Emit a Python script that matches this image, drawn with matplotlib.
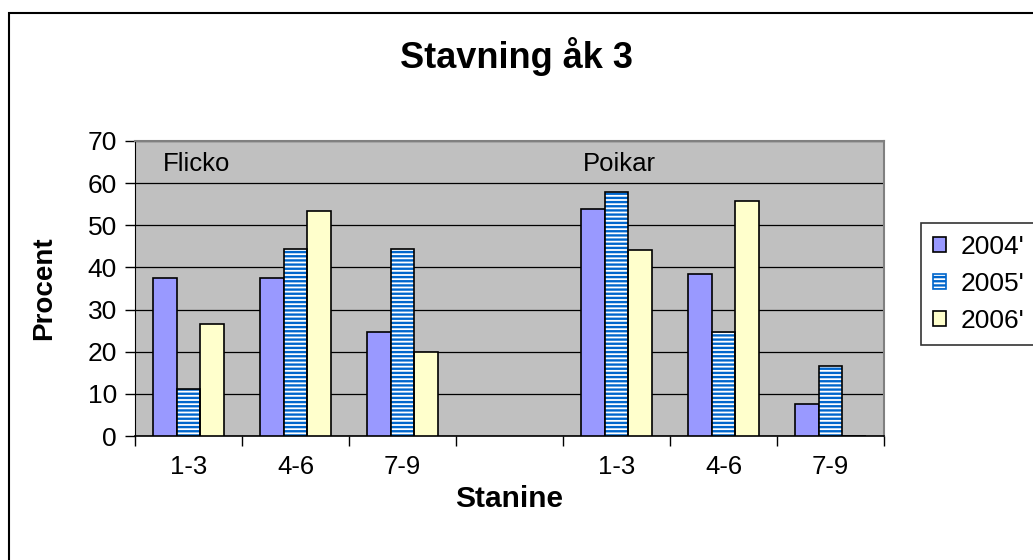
import numpy as np
import matplotlib
matplotlib.use("Agg")
import matplotlib.pyplot as plt
from matplotlib.patches import Rectangle, Patch

plt.rcParams['font.family'] = ['Liberation Sans', 'DejaVu Sans']
plt.rcParams['patch.force_edgecolor'] = True
plt.rcParams['patch.edgecolor'] = 'black'
plt.rcParams['hatch.color'] = '#0066CC'
plt.rcParams['hatch.linewidth'] = 1.7

# data: Flicko (1-3, 4-6, 7-9), empty slot, Poikar (1-3, 4-6, 7-9)
categories = ['1-3', '4-6', '7-9', '', '1-3', '4-6', '7-9']
years = ["2004'", "2005'", "2006'"]
v2004 = [37.5, 37.5, 24.6, 0, 53.8, 38.5, 7.7]
v2005 = [11.1, 44.4, 44.4, 0, 58.0, 24.6, 16.7]
v2006 = [26.6, 53.3, 20.0, 0, 44.2, 55.8, 0]
groups = ['Flicko', 'Poikar']

HATCH_BLUE = '#0066CC'
has_hatchcolor = hasattr(Patch, 'set_hatchcolor')

fig = plt.figure(figsize=(10.33, 5.6), dpi=100)
ax = fig.add_axes([135/1033, 1 - 436/560, (884 - 135)/1033, (436 - 141)/560])
ax.set_facecolor('#C0C0C0')

x = np.arange(len(categories))
w = 0.22
mask = [i != 3 for i in range(len(categories))]
xs = x[mask]
ax.bar(xs - w, np.array(v2004)[mask], w, color='#9999FF', linewidth=1.2, zorder=3)
if has_hatchcolor:
    ax.bar(xs, np.array(v2005)[mask], w, facecolor='white', edgecolor='black',
           hatch='----', hatchcolor=HATCH_BLUE, linewidth=1.2, zorder=3)
else:
    ax.bar(xs, np.array(v2005)[mask], w, facecolor='white', edgecolor=HATCH_BLUE,
           hatch='----', linewidth=0, zorder=3)
    ax.bar(xs, np.array(v2005)[mask], w, fill=False, edgecolor='black',
           linewidth=1.2, zorder=4)
ax.bar(xs + w, np.array(v2006)[mask], w, color='#FFFFCC', linewidth=1.2, zorder=3)

ax.set_xlim(-0.5, len(categories) - 0.5)
ax.set_ylim(0, 70)
ax.set_yticks(range(0, 71, 10))
ax.yaxis.grid(True, color='black', linewidth=0.9, zorder=0)
ax.set_axisbelow(True)

ax.set_xticks(x)
ax.set_xticklabels(categories)
ax.set_xticks(np.arange(-0.5, len(categories)), minor=True)
ax.tick_params(axis='x', which='major', length=0, pad=14, labelsize=18.5)
ax.tick_params(axis='x', which='minor', length=7, width=1, color='black')
ax.tick_params(axis='y', length=7, width=1, labelsize=19, pad=6)

ax.spines['left'].set_color('black')
ax.spines['bottom'].set_color('black')
ax.spines['bottom'].set_linewidth(1.2)
ax.spines['top'].set_color('#808080')
ax.spines['right'].set_color('#808080')
ax.spines['top'].set_linewidth(1.5)
ax.spines['right'].set_linewidth(1.5)

ax.text(-0.24, 64.5, groups[0], fontsize=18.5, va='center', ha='left')
ax.text(3.69, 64.5, groups[1], fontsize=18.5, va='center', ha='left')

ax.set_xlabel('Stanine', fontsize=21.5, fontweight='bold', labelpad=4)
ax.set_ylabel('Procent', fontsize=20, fontweight='bold', labelpad=22)
fig.text(516/1033, 1 - 57/560, 'Stavning åk 3', fontsize=26, fontweight='bold',
         ha='center', va='center')

# legend handles
h2004 = Patch(facecolor='#9999FF', edgecolor='black', linewidth=1.2)
if has_hatchcolor:
    h2005 = Patch(facecolor='white', edgecolor='black', hatch='----',
                  hatchcolor=HATCH_BLUE, linewidth=1.2)
else:
    h2005 = Patch(facecolor='white', edgecolor=HATCH_BLUE, hatch='----', linewidth=1.2)
h2006 = Patch(facecolor='#FFFFCC', edgecolor='black', linewidth=1.2)

leg = fig.legend([h2004, h2005, h2006], years, loc='upper left',
                 bbox_to_anchor=(921/1033, 1 - 223/560),
                 fontsize=19, frameon=True, fancybox=False, edgecolor='black',
                 handlelength=0.5, handleheight=0.5, handletextpad=0.55,
                 labelspacing=0.5, borderpad=0.45, borderaxespad=0)
leg.get_frame().set_linewidth(1.2)

# outer chart border (right and bottom fall outside the image)
fig.patches.append(Rectangle((9/1033, -0.1), 2, 1.1 - 13/560,
                             transform=fig.transFigure, fill=False,
                             edgecolor='black', linewidth=1.5))

fig.savefig('out.png', dpi=100)
